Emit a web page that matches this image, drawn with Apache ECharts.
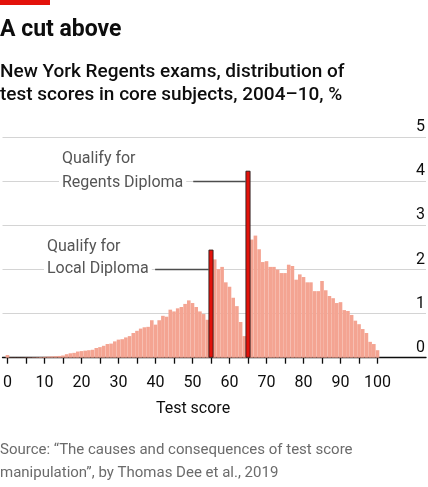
<!DOCTYPE html>
<html>
<head>
<meta charset="utf-8">
<script src="https://cdn.jsdelivr.net/npm/echarts@6/dist/echarts.min.js"></script>
<style>
html,body{margin:0;padding:0;background:#fff;}
#c{width:428px;height:487px;}
</style>
</head>
<body>
<div id="c"></div>
<script>
// Test scores (x) and share of all test scores, % (y)
const scores = [
  0,1,2,3,4,5,6,7,8,9,
  10,11,12,13,14,15,16,17,18,19,
  20,21,22,23,24,25,26,27,28,29,
  30,31,32,33,34,35,36,37,38,39,
  40,41,42,43,44,45,46,47,48,49,
  50,51,52,53,54,55,56,57,58,59,
  60,61,62,63,64,65,66,67,68,69,
  70,71,72,73,74,75,76,77,78,79,
  80,81,82,83,84,85,86,87,88,89,
  90,91,92,93,94,95,96,97,98,99,
  100
];
const shares = [
  0.06,0.005,0.005,0.005,0.005,0.007,0.008,0.01,0.012,0.015,
  0.02,0.025,0.03,0.035,0.04,0.05,0.08,0.10,0.11,0.14,
  0.15,0.16,0.17,0.18,0.22,0.24,0.27,0.31,0.32,0.37,
  0.41,0.42,0.46,0.49,0.56,0.61,0.66,0.69,0.70,0.85,
  0.75,0.85,0.95,0.93,1.09,1.05,1.12,1.15,1.22,1.30,
  1.24,1.15,1.05,0.99,0.86,2.45,2.23,2.01,2.06,1.71,
  1.61,1.36,1.17,0.81,0.49,4.24,2.68,2.77,2.46,2.17,
  2.19,2.06,2.06,2.00,1.92,1.92,2.11,2.08,1.77,1.89,
  1.83,1.71,1.71,1.51,1.51,1.74,1.53,1.40,1.35,1.24,
  1.26,1.08,1.06,0.97,0.84,0.76,0.65,0.56,0.36,0.31,
  0.17
];
// Diploma cut-off scores
const highlightScores = [55, 65];
const cutLabels = ["Qualify for\nLocal Diploma", "Qualify for\nRegents Diploma"];
const cutLeaderLevels = [2, 4];
const cutLeaderStarts = [39.9, 50.2];

// Axis ticks and labels
const xTickValues = [0,5,10,15,20,25,30,35,40,45,50,55,60,65,70,75,80,85,90,95,100];
const xLabelValues = [0,10,20,30,40,50,60,70,80,90,100];
const yTickValues = [0,1,2,3,4,5];

const FONT = 'Roboto, "Noto Sans", sans-serif';
const PINK = '#f4a492';
const RED = '#e3120b';
const X_MIN = -1.34, X_MAX = 113.1;

const chart = echarts.init(document.getElementById('c'), null, {renderer: 'canvas'});

const baseData = scores.map((s, i) => [s, shares[i]]);
const hiData = highlightScores.map(s => [s, shares[scores.indexOf(s)]]);

const leaderData = cutLeaderLevels.map((lv, i) => [
  {coord: [cutLeaderStarts[i], lv]},
  {coord: [highlightScores[i] - 0.6, lv]}
]);

const xAxisBase = {
  type: 'value', min: X_MIN, max: X_MAX, splitLine: {show: false}
};

chart.setOption({
  animation: false,
  backgroundColor: '#fff',
  title: [
    {text: 'A cut above', left: 0, top: 17, padding: 0,
     textStyle: {fontFamily: FONT, fontSize: 23, fontWeight: 'bold', color: '#0d0d0d', lineHeight: 26}},
    {text: 'New York Regents exams, distribution of\ntest scores in core subjects, 2004\u201310, %', left: 0, top: 61, padding: 0,
     textStyle: {fontFamily: FONT, fontSize: 19, fontWeight: 500, color: '#0d0d0d', lineHeight: 22.5}},
    {text: 'Source: \u201cThe causes and consequences of test score\nmanipulation\u201d, by Thomas Dee et al., 2019', left: 0, top: 439, padding: 0,
     textStyle: {fontFamily: FONT, fontSize: 15, fontWeight: 'normal', color: '#6b6b6b', lineHeight: 23}}
  ],
  grid: {left: 0, right: 0, top: 137.3, bottom: 129.3, containLabel: false},
  xAxis: [
    Object.assign({}, xAxisBase, {
      axisLine: {show: true, lineStyle: {color: '#0d0d0d', width: 1.3}},
      axisTick: {show: true, customValues: xTickValues, length: 6, lineStyle: {color: '#0d0d0d', width: 1.3}},
      axisLabel: {show: true, customValues: xLabelValues, fontFamily: FONT, fontSize: 16, color: '#0d0d0d', margin: 17}
    }),
    Object.assign({}, xAxisBase, {show: false})
  ],
  yAxis: {
    type: 'value',
    position: 'right',
    min: 0,
    max: 5,
    interval: 1,
    axisLine: {show: false},
    axisTick: {show: false},
    axisLabel: {inside: true, margin: 1, verticalAlign: 'bottom', padding: [0, 0, 2, 0],
      fontFamily: FONT, fontSize: 16, color: '#0d0d0d',
      customValues: yTickValues},
    splitLine: {show: true, lineStyle: {color: '#d4d4d4', width: 1.2}}
  },
  series: [{
    type: 'bar',
    xAxisIndex: 0,
    data: baseData,
    barWidth: 3.6,
    itemStyle: {color: PINK},
    z: 2
  }, {
    type: 'bar',
    xAxisIndex: 1,
    data: hiData,
    barWidth: 5,
    itemStyle: {color: RED, borderColor: '#1a1a1a', borderWidth: 0.8},
    z: 3,
    markLine: {
      silent: true,
      symbol: ['none', 'none'],
      label: {show: false},
      lineStyle: {color: '#4d4d4d', width: 1.4, type: 'solid'},
      data: leaderData,
      z: 5
    }
  }],
  graphic: [
    {type: 'rect', left: 0, top: 0, shape: {width: 50, height: 5}, style: {fill: RED}, z: 100},
    {type: 'text', x: 193, y: 401, z: 100,
     style: {text: 'Test score', font: '16px ' + FONT, fill: '#0d0d0d', textAlign: 'center'}},
    {type: 'text', x: 59, y: 147, z: 100,
     style: {text: cutLabels[1], font: '16px ' + FONT, fill: '#555555', lineHeight: 23.7,
             backgroundColor: '#fff', padding: [0, 3, 0, 3]}},
    {type: 'text', x: 44, y: 236, z: 100,
     style: {text: cutLabels[0], font: '16px ' + FONT, fill: '#555555', lineHeight: 22,
             backgroundColor: '#fff', padding: [0, 3, 0, 3]}}
  ]
});
</script>
</body>
</html>
